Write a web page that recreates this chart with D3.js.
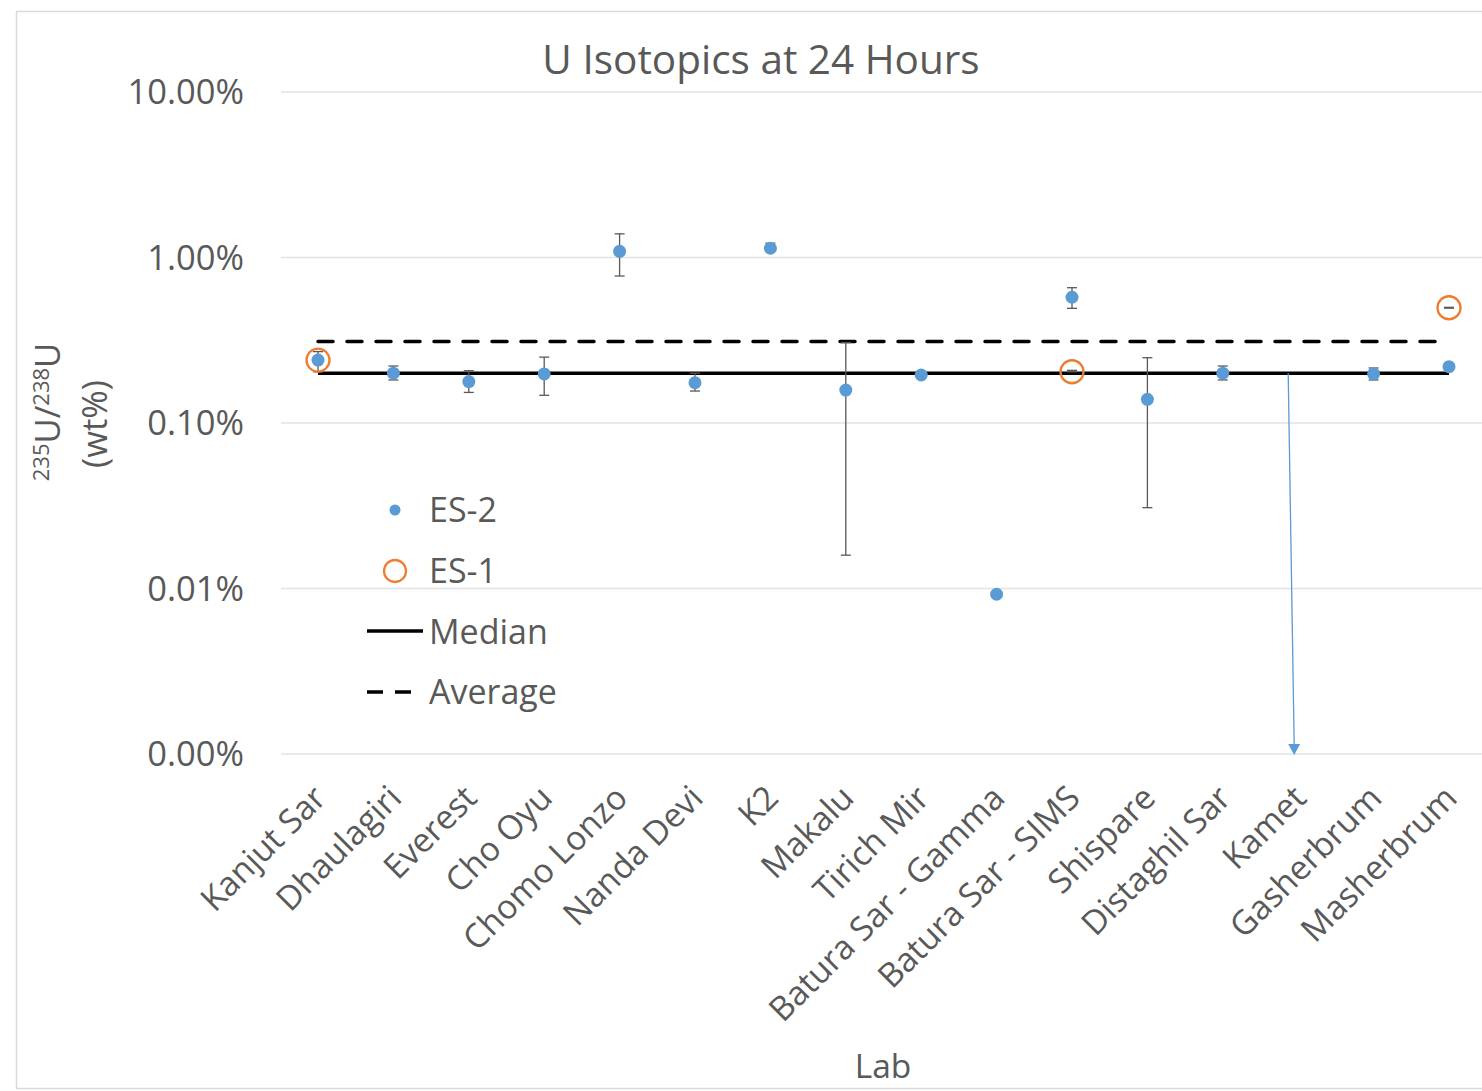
<!DOCTYPE html>
<html>
<head>
<meta charset="utf-8">
<script src="https://cdn.jsdelivr.net/npm/d3@7"></script>
<style>
  body { margin: 0; background: #fff; }
  text { font-family: "Open Sans", Calibri, sans-serif; fill: #595959; }
</style>
</head>
<body>
<div id="chart"></div>
<script>
// values are 235U/238U in wt%
const labs = ["Kanjut Sar", "Dhaulagiri", "Everest", "Cho Oyu", "Chomo Lonzo", "Nanda Devi", "K2", "Makalu",
  "Tirich Mir", "Batura Sar - Gamma", "Batura Sar - SIMS", "Shispare", "Distaghil Sar", "Kamet", "Gasherbrum", "Masherbrum"];
const es2Values = [0.240, 0.200, 0.178, 0.198, 1.09, 0.175, 1.137, 0.158, 0.195, 0.00923, 0.575, 0.139, 0.200, null, 0.198, 0.219];
const es2Upper  = [0.270, 0.221, 0.207, 0.250, 1.39, 0.200, 1.22, 0.306, null, null, 0.657, 0.248, 0.221, null, 0.215, null];
const es2Lower  = [0.204, 0.182, 0.153, 0.147, 0.773, 0.156, 1.10, 0.0159, null, null, 0.493, 0.0308, 0.182, null, 0.182, null];
const es1Labs   = ["Kanjut Sar", "Batura Sar - SIMS", "Masherbrum"];
const es1Values = [0.240, 0.204, 0.497];
const es1Upper  = [null, 0.208, 0.500];
const es1Lower  = [null, 0.204, 0.494];
const medianValue = 0.200;
const averageValue = 0.311;
const kametArrow = {lab: "Kamet", from: 0.200, to: 0.001};
const yTicks = [0.001, 0.01, 0.1, 1, 10];

const width = 1482, height = 1091;

const svg = d3.select("#chart").append("svg")
  .attr("width", width)
  .attr("height", height);

// chart frame
svg.append("rect")
  .attr("x", 16.5).attr("y", 11.5)
  .attr("width", width + 10).attr("height", 1077)
  .attr("fill", "none").attr("stroke", "#d9d9d9").attr("stroke-width", 1.5);

const xScale = d3.scalePoint()
  .domain(labs)
  .range([318, 1449]);

const yScale = d3.scaleLog()
  .domain([0.001, 10])
  .range([754, 92]);

// gridlines + tick labels
svg.selectAll(".grid")
    .data(yTicks)
  .enter().append("line")
    .attr("x1", 281).attr("x2", width)
    .attr("y1", d => yScale(d)).attr("y2", d => yScale(d))
    .attr("stroke", "#e3e3e3").attr("stroke-width", 1.3);

svg.selectAll(".ytick")
    .data(yTicks)
  .enter().append("text")
    .attr("x", 244)
    .attr("y", d => yScale(d))
    .attr("dy", "0.36em")
    .attr("text-anchor", "end")
    .attr("font-size", 34.5)
    .text(d => d3.format(".2f")(d) + "%");

// x labels
svg.selectAll(".xtick")
    .data(labs)
  .enter().append("text")
    .attr("text-anchor", "end")
    .attr("font-size", 33.5)
    .attr("transform", d => "translate(" + (xScale(d) + 10) + ",800) rotate(-45)")
    .text(d => d);

// title and axis titles
svg.append("text")
  .attr("x", 761).attr("y", 74)
  .attr("text-anchor", "middle")
  .attr("font-size", 40.5)
  .text("U Isotopics at 24 Hours");

svg.append("text")
  .attr("x", 883).attr("y", 1078)
  .attr("text-anchor", "middle")
  .attr("font-size", 33.5)
  .text("Lab");

const yTitle = svg.append("text")
  .attr("transform", "translate(60,412) rotate(-90)")
  .attr("text-anchor", "middle")
  .attr("font-size", 34.5);
yTitle.append("tspan").attr("font-size", 22).attr("dy", -11).text("235");
yTitle.append("tspan").attr("dy", 11).text("U/");
yTitle.append("tspan").attr("font-size", 22).attr("dy", -11).text("238");
yTitle.append("tspan").attr("dy", 11).text("U");
svg.append("text")
  .attr("transform", "translate(107,424) rotate(-90)")
  .attr("text-anchor", "middle")
  .attr("font-size", 34.5)
  .text("(wt%)");

// median and average lines
const line = d3.line()
  .x(d => xScale(d.lab))
  .y(d => yScale(d.v));

svg.append("path")
  .datum([{lab: labs[0], v: medianValue}, {lab: labs[labs.length - 1], v: medianValue}])
  .attr("d", line)
  .attr("stroke", "#000").attr("stroke-width", 3.5).attr("fill", "none");

svg.append("path")
  .datum([{lab: labs[0], v: averageValue}, {lab: labs[labs.length - 1], v: averageValue}])
  .attr("d", line)
  .attr("stroke", "#000").attr("stroke-width", 3.5).attr("fill", "none")
  .attr("stroke-dasharray", "15,14").attr("stroke-linecap", "round");

// error bars
function errorBars(names, upper, lower, vals) {
  const rows = names.map((n, i) => ({lab: n, hi: upper[i], lo: lower[i], v: vals[i]}))
    .filter(d => d.hi != null && d.lo != null);
  const g = svg.append("g").attr("stroke", "#595959").attr("stroke-width", 1.3);
  g.selectAll(".eb").data(rows).enter().append("line")
    .attr("x1", d => xScale(d.lab)).attr("x2", d => xScale(d.lab))
    .attr("y1", d => yScale(d.hi)).attr("y2", d => yScale(d.lo));
  g.selectAll(".capHi").data(rows).enter().append("line")
    .attr("x1", d => xScale(d.lab) - 5).attr("x2", d => xScale(d.lab) + 5)
    .attr("y1", d => yScale(d.hi)).attr("y2", d => yScale(d.hi));
  g.selectAll(".capLo").data(rows).enter().append("line")
    .attr("x1", d => xScale(d.lab) - 5).attr("x2", d => xScale(d.lab) + 5)
    .attr("y1", d => yScale(d.lo)).attr("y2", d => yScale(d.lo));
}
errorBars(labs, es2Upper, es2Lower, es2Values);
errorBars(es1Labs, es1Upper, es1Lower, es1Values);

// ES-2 points
svg.selectAll(".es2")
    .data(labs.map((l, i) => ({lab: l, v: es2Values[i]})).filter(d => d.v != null))
  .enter().append("circle")
    .attr("r", 6.5)
    .attr("cx", d => xScale(d.lab))
    .attr("cy", d => yScale(d.v))
    .attr("fill", "#5b9bd5");

// ES-1 points
svg.selectAll(".es1")
    .data(es1Labs.map((l, i) => ({lab: l, v: es1Values[i]})))
  .enter().append("circle")
    .attr("r", 11.5)
    .attr("cx", d => xScale(d.lab))
    .attr("cy", d => yScale(d.v))
    .attr("fill", "none")
    .attr("stroke", "#ed7d31").attr("stroke-width", 2.3);

// Kamet value is off the axis: blue arrow down
const kx = xScale(kametArrow.lab);
svg.append("line")
  .attr("x1", kx - 10).attr("y1", yScale(kametArrow.from))
  .attr("x2", kx - 4).attr("y2", yScale(kametArrow.to) - 8)
  .attr("stroke", "#5b9bd5").attr("stroke-width", 1.3);
svg.append("path")
  .attr("d", "M" + (kx - 10) + "," + (yScale(kametArrow.to) - 10) + "L" + (kx + 2) + "," +
    (yScale(kametArrow.to) - 10) + "L" + (kx - 4) + "," + (yScale(kametArrow.to) + 1) + "Z")
  .attr("fill", "#5b9bd5");

// legend
const legend = svg.append("g");
legend.append("circle").attr("cx", 395).attr("cy", 510).attr("r", 5.5).attr("fill", "#5b9bd5");
legend.append("circle").attr("cx", 395).attr("cy", 571).attr("r", 11)
  .attr("fill", "none").attr("stroke", "#ed7d31").attr("stroke-width", 2.3);
legend.append("line").attr("x1", 367).attr("x2", 423).attr("y1", 631).attr("y2", 631)
  .attr("stroke", "#000").attr("stroke-width", 3.5);
legend.append("line").attr("x1", 367).attr("x2", 411).attr("y1", 692).attr("y2", 692)
  .attr("stroke", "#000").attr("stroke-width", 3.5).attr("stroke-dasharray", "16,12");
legend.selectAll(".lt")
    .data(["ES-2", "ES-1", "Median", "Average"])
  .enter().append("text")
    .attr("x", 429)
    .attr("y", (d, i) => 510 + i * 60.7)
    .attr("dy", "0.36em")
    .attr("font-size", 34)
    .text(d => d);
</script>
</body>
</html>
